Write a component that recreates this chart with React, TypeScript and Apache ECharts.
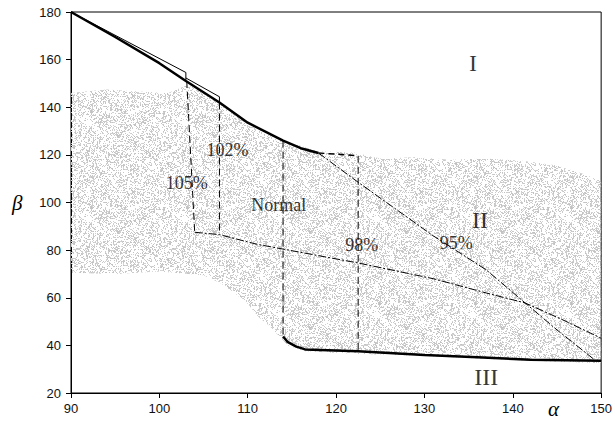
import React, { useEffect, useRef } from "react";
import * as echarts from "echarts";

// ---- data ----
const xMin = 90, xMax = 150, xStep = 10;
const yMin = 20, yMax = 180, yStep = 20;

// Measured point cloud region (upper edge left→right, lower edge right→left)
const cloudUpper: number[][] = [
  [90, 146], [94, 147.5], [98, 146.5], [101, 146], [103, 149], [104, 148.5],
  [106.8, 142], [110, 133.5], [114, 126], [118, 121.5], [122, 121], [125, 118.5],
  [129, 119], [133, 118], [137, 118.5], [141, 117.5], [145, 115.5], [148, 112], [150, 109],
];
const cloudLower: number[][] = [
  [150, 32.5], [142, 33.5], [130, 35.5], [122, 36.5], [116.5, 37.5], [114.5, 40],
  [113.5, 44], [112.5, 48], [111.2, 52], [110, 57.5], [108.5, 62], [107, 66],
  [105, 69.5], [100, 71], [95, 70], [90, 70.5],
];

const boundaryI: number[][] = [
  [90, 180], [95, 169.5], [100, 158.5], [103, 151], [106.8, 142], [110, 133.5],
  [114, 126], [116, 122.8], [118, 120.8],
];
const boundaryIDashed: number[][] = [[118, 120.8], [120, 120.3], [122.5, 119.6]];
const thin105: number[][] = [[90, 180], [103, 154.6], [103, 151]];
const thin102: number[][] = [[103, 152.3], [106.8, 144.4], [106.8, 142]];
const dashed105: number[][] = [[103.1, 151], [104, 87.5]];
const dashed102: number[][] = [[106.8, 142], [106.8, 86.5]];
const dashedNormal: number[][] = [[114, 126], [114, 43.7]];
const dashed98: number[][] = [[122.5, 119.6], [122.5, 37.5]];
const lowerLimit: number[][] = [
  [104, 87.5], [106.8, 86.5], [111, 82.5], [122.5, 74.6], [131, 68], [137, 62],
  [141.4, 57.8], [145.5, 51], [150, 43],
];
const line95: number[][] = [
  [118, 120.8], [122.5, 108.5], [131, 86], [137, 71.7], [141.4, 57.8], [145, 46.5], [149.3, 33.8],
];
const boundaryIII: number[][] = [
  [114, 43.7], [114.5, 41.5], [115.5, 39.5], [116.5, 38.3], [122.5, 37.5], [130, 36],
  [136, 35], [142, 34], [150, 33.5],
];

const regionLabels = ["I", "II", "III"];
const regionPos: number[][] = [[135.5, 158.7], [136.3, 92.7], [137, 26.7]];
const pctLabels = ["105%", "102%", "Normal", "98%", "95%"];
const pctPos: number[][] = [[103.1, 108.2], [107.7, 122], [113.5, 99], [122.9, 82.2], [133.6, 83]];

const SERIF = '"Liberation Serif", "Times New Roman", serif';
const SANS = '"Liberation Sans", Arial, sans-serif';

function makeSpeckle(): HTMLCanvasElement {
  const n = 96;
  const c = document.createElement("canvas");
  c.width = n; c.height = n;
  const ctx = c.getContext("2d")!;
  const img = ctx.createImageData(n, n);
  for (let y = 0; y < n; y++) {
    for (let x = 0; x < n; x++) {
      let h = (Math.imul(x, 374761393) + Math.imul(y, 668265263)) | 0;
      h = Math.imul(h ^ (h >>> 13), 1274126177);
      h = (h ^ (h >>> 16)) >>> 0;
      // slowly varying density (blotches)
      const d = 34 + 12 * Math.sin(x * 0.2) * Math.cos(y * 0.26);
      const i = (y * n + x) * 4;
      if (h % 100 < d) {
        const g = 192 + ((h >>> 8) % 22);
        img.data[i] = g; img.data[i + 1] = g; img.data[i + 2] = g; img.data[i + 3] = 255;
      } else {
        img.data[i + 3] = 0;
      }
    }
  }
  ctx.putImageData(img, 0, 0);
  return c;
}

function lineSeries(data: number[][], width: number, type: any, z = 3) {
  return {
    type: "line",
    data,
    showSymbol: false,
    symbol: "none",
    silent: true,
    z,
    lineStyle: { color: "#000", width, type },
  };
}

export default function App() {
  const ref = useRef<HTMLDivElement>(null);
  useEffect(() => {
    if (!ref.current) return;
    const chart = echarts.init(ref.current, undefined, { renderer: "svg" });
    const speckle = makeSpeckle();
    const cloudPoly = cloudUpper.concat(cloudLower);

    const labelData = [
      ...regionLabels.map((t, i) => ({
        value: regionPos[i],
        name: t,
        label: { fontSize: 24 },
      })),
      ...pctLabels.map((t, i) => ({
        value: pctPos[i],
        name: t,
        label: { fontSize: 18 },
      })),
    ];

    chart.setOption({
      animation: false,
      backgroundColor: "#fff",
      grid: { left: 71, right: 11, top: 12, bottom: 32, show: true, borderColor: "#000", borderWidth: 1 },
      xAxis: {
        type: "value",
        min: xMin, max: xMax, interval: xStep,
        axisLine: { lineStyle: { color: "#000", width: 1 } },
        axisTick: { length: 5, lineStyle: { color: "#000" } },
        axisLabel: { color: "#111", fontFamily: SANS, fontSize: 13, margin: 9 },
        splitLine: { show: false },
      },
      yAxis: {
        type: "value",
        min: yMin, max: yMax, interval: yStep,
        axisLine: { show: true, lineStyle: { color: "#000", width: 1 } },
        axisTick: { show: true, length: 5, lineStyle: { color: "#000" } },
        axisLabel: { color: "#111", fontFamily: SANS, fontSize: 13, margin: 10 },
        splitLine: { show: false },
      },
      series: [
        {
          type: "custom",
          z: 1,
          silent: true,
          data: [[120, 100]],
          renderItem: (params: any, api: any) => ({
            type: "polygon",
            shape: { points: cloudPoly.map((p) => api.coord(p)) },
            style: { fill: { image: speckle, repeat: "repeat" }, stroke: null },
          }),
        },
        lineSeries(thin105, 1, "solid"),
        lineSeries(thin102, 1, "solid"),
        lineSeries(boundaryI, 2.5, "solid", 4),
        lineSeries(boundaryIDashed, 1.5, [6, 4]),
        lineSeries(dashed105, 1, [7, 4]),
        lineSeries(dashed102, 1, [7, 4]),
        lineSeries(dashedNormal, 1, [7, 4]),
        lineSeries(dashed98, 1, [7, 4]),
        lineSeries(lowerLimit, 1, [8, 2, 2, 2]),
        lineSeries(line95, 1, [8, 2, 2, 2]),
        lineSeries(boundaryIII, 2.5, "solid", 4),
        {
          type: "scatter",
          z: 5,
          silent: true,
          symbolSize: 0,
          itemStyle: { color: "transparent" },
          data: labelData,
          label: {
            show: true,
            position: "inside",
            formatter: (p: any) => p.name,
            color: "#000",
            textBorderWidth: 0,
            fontFamily: SERIF,
          },
        },
      ],
      graphic: [
        {
          type: "text",
          left: 12, top: 192,
          style: { text: "β", font: `italic 21px ${SERIF}`, fill: "#000" },
        },
        {
          type: "text",
          left: 548, top: 398,
          style: { text: "α", font: `italic 21px ${SERIF}`, fill: "#000" },
        },
      ],
    });
    return () => chart.dispose();
  }, []);
  return (
    <div
      ref={ref}
      style={{ position: "fixed", left: 0, top: 0, width: 615, height: 425 }}
    />
  );
}
